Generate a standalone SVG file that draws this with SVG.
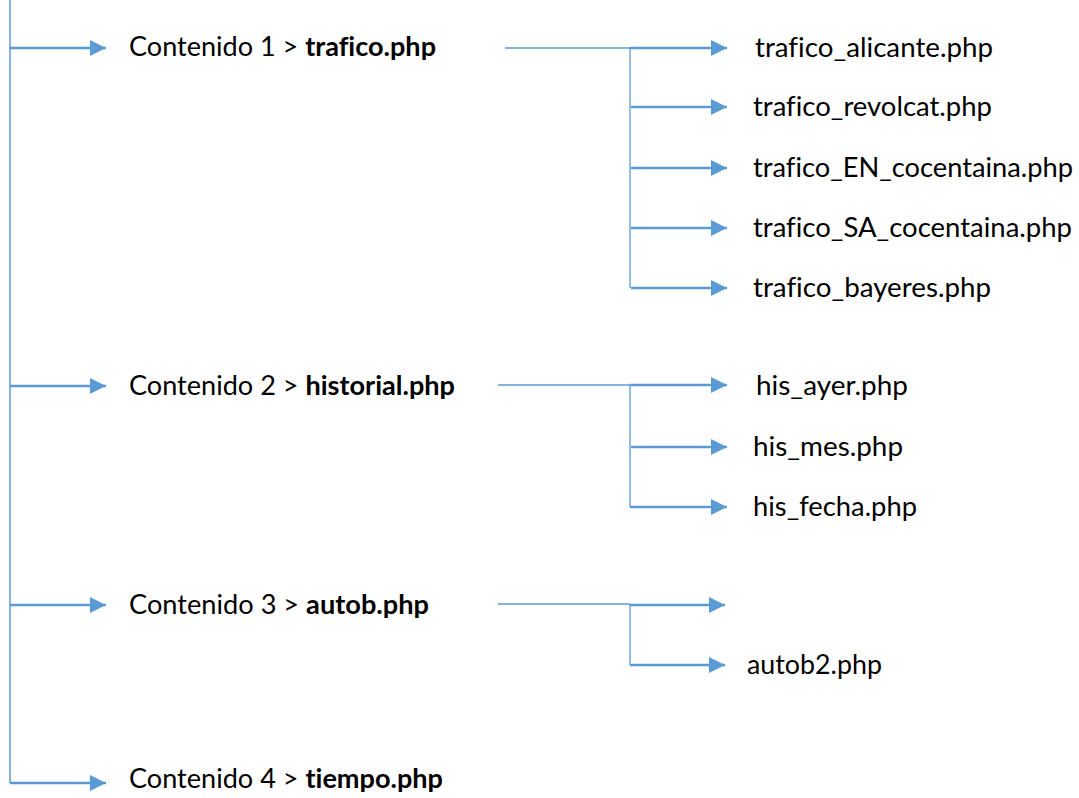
<svg xmlns="http://www.w3.org/2000/svg" width="1079" height="798" viewBox="0 0 1079 798">
  <style>
    .lbl { font-family: Lato, "Open Sans", "Liberation Sans", sans-serif; font-size: 27px; fill: #000; font-variant-ligatures: none; font-feature-settings: "liga" 0; }
    .b { font-weight: bold; }
    .trunk { stroke: #5B9BD5; stroke-width: 1.5; fill: none; }
    .thin { stroke: #5B9BD5; stroke-width: 1.3; fill: none; }
    .arr { stroke: #5B9BD5; stroke-width: 2.5; fill: none; marker-end: url(#ah); }
  </style>
  <defs>
    <marker id="ah" markerUnits="userSpaceOnUse" markerWidth="17" markerHeight="17" refX="16" refY="8" orient="auto">
      <path d="M0,0 L16,8 L0,16 Z" fill="#5B9BD5"/>
    </marker>
  </defs>
  <rect width="1079" height="798" fill="#fff"/>

  <g id="connectors">
    <line class="trunk" x1="10" y1="0" x2="10" y2="783"/>
    <line class="arr" x1="10" y1="48" x2="106" y2="48"/>
    <line class="arr" x1="10" y1="386" x2="106" y2="386"/>
    <line class="arr" x1="10" y1="605" x2="106" y2="605"/>
    <line class="arr" x1="10" y1="783" x2="106" y2="783"/>

    <line class="thin" x1="505" y1="48" x2="630" y2="48"/>
    <line class="thin" x1="630" y1="48" x2="630" y2="288"/>
    <line class="arr" x1="630" y1="48" x2="727" y2="48"/>
    <line class="arr" x1="631" y1="107" x2="727" y2="107"/>
    <line class="arr" x1="631" y1="168" x2="727" y2="168"/>
    <line class="arr" x1="631" y1="228" x2="727" y2="228"/>
    <line class="arr" x1="631" y1="288" x2="727" y2="288"/>

    <line class="thin" x1="498" y1="385" x2="630" y2="385"/>
    <line class="thin" x1="630" y1="385" x2="630" y2="507"/>
    <line class="arr" x1="630" y1="385" x2="727" y2="385"/>
    <line class="arr" x1="631" y1="447" x2="727" y2="447"/>
    <line class="arr" x1="630" y1="507" x2="727" y2="507"/>

    <line class="thin" x1="498" y1="604" x2="630" y2="604"/>
    <line class="thin" x1="630" y1="604" x2="630" y2="665"/>
    <line class="arr" x1="630" y1="605" x2="725" y2="605"/>
    <line class="arr" x1="630" y1="665" x2="725" y2="665"/>
  </g>

  <g id="contenido1"><text class="lbl" x="129" y="56" textLength="307" lengthAdjust="spacingAndGlyphs">Contenido 1 &gt; <tspan class="b">trafico.php</tspan></text></g>
  <g id="contenido2"><text class="lbl" x="129" y="395" textLength="326" lengthAdjust="spacingAndGlyphs">Contenido 2 &gt; <tspan class="b">historial.php</tspan></text></g>
  <g id="contenido3"><text class="lbl" x="129" y="614" textLength="300" lengthAdjust="spacingAndGlyphs">Contenido 3 &gt; <tspan class="b">autob.php</tspan></text></g>
  <g id="contenido4"><text class="lbl" x="129" y="788" textLength="314" lengthAdjust="spacingAndGlyphs">Contenido 4 &gt; <tspan class="b">tiempo.php</tspan></text></g>

  <g id="trafico_alicante"><text class="lbl" x="755" y="57" textLength="238" lengthAdjust="spacingAndGlyphs">trafico_alicante.php</text></g>
  <g id="trafico_revolcat"><text class="lbl" x="753" y="116" textLength="239" lengthAdjust="spacingAndGlyphs">trafico_revolcat.php</text></g>
  <g id="trafico_EN_cocentaina"><text class="lbl" x="753" y="177" textLength="320" lengthAdjust="spacingAndGlyphs">trafico_EN_cocentaina.php</text></g>
  <g id="trafico_SA_cocentaina"><text class="lbl" x="753" y="237" textLength="319" lengthAdjust="spacingAndGlyphs">trafico_SA_cocentaina.php</text></g>
  <g id="trafico_bayeres"><text class="lbl" x="753" y="297" textLength="238" lengthAdjust="spacingAndGlyphs">trafico_bayeres.php</text></g>

  <g id="his_ayer"><text class="lbl" x="756" y="395" textLength="152" lengthAdjust="spacingAndGlyphs">his_ayer.php</text></g>
  <g id="his_mes"><text class="lbl" x="753" y="456" textLength="150" lengthAdjust="spacingAndGlyphs">his_mes.php</text></g>
  <g id="his_fecha"><text class="lbl" x="753" y="516" textLength="164" lengthAdjust="spacingAndGlyphs">his_fecha.php</text></g>

  <g id="autob2"><text class="lbl" x="747" y="674" textLength="135" lengthAdjust="spacingAndGlyphs">autob2.php</text></g>
</svg>
